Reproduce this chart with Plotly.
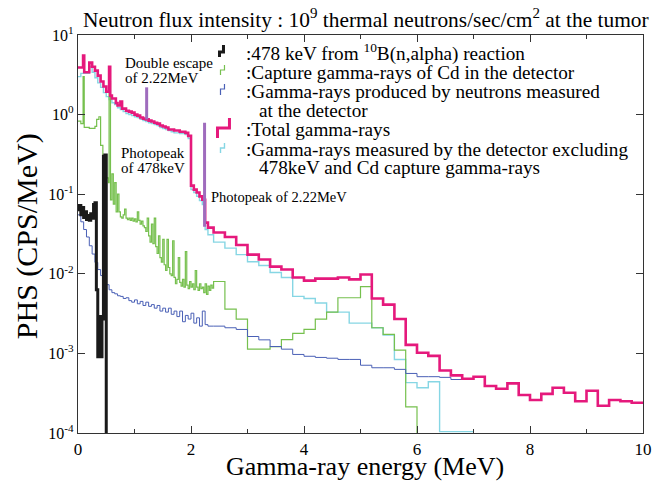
import plotly.graph_objects as go

# ------------------------------------------------------------------ data
# shared coarse binning above 2.4 MeV (bin edges, MeV)
coarse_edges = [round(2.4 + 0.2 * i, 1) for i in range(39)]  # 2.4 ... 10.0

# Total gamma-rays
total_fine_edges = [0, 0.09, 0.11, 0.2, 0.25, 0.3, 0.35, 0.4, 0.45, 0.5,
                    0.55, 0.57, 0.6, 0.65, 0.67, 0.7, 0.75, 0.78, 0.85, 0.9,
                    0.95, 1.0, 1.05, 1.1, 1.15, 1.2, 1.25, 1.3, 1.35, 1.4,
                    1.45, 1.5, 1.55, 1.6, 1.65, 1.7, 1.75, 1.8, 1.85, 1.9,
                    1.95, 2.0, 2.05, 2.1, 2.15, 2.2, 2.25, 2.3]
total_fine_vals = [3.9, 5.5, 3.4, 4.5, 4.0, 3.57, 3.09, 2.6, 2.25, 1.94,
                   4.0, 1.73, 1.59, 1.59, 1.40, 1.30, 1.46, 1.19, 1.12, 1.09,
                   1.06, 1.0, 0.97, 0.92, 0.89, 0.87, 0.84, 0.82, 0.79, 0.77,
                   0.73, 0.71, 0.69, 0.65, 0.65, 0.63, 0.63, 0.61, 0.61, 0.59,
                   0.54, 0.128, 0.114, 0.105, 0.094, 0.085, 0.044, 0.038]
total_coarse_vals = [0.033, 0.029, 0.023, 0.0174, 0.0151, 0.0123, 0.0113, 0.0090, 0.0082, 0.0087,
                     0.0087, 0.0090, 0.0085, 0.0098, 0.0049, 0.0041, 0.0027, 0.00128, 0.00102, 0.00093,
                     0.00061, 0.00053, 0.00048, 0.00051, 0.00039, 0.00036, 0.00042, 0.00030, 0.00026, 0.00031,
                     0.00037, 0.00032, 0.00025, 0.00034, 0.00022, 0.00026, 0.00025, 0.00024]

# Gamma-rays measured by the detector excluding 478 keV and Cd capture
excl_fine_edges = [0, 0.05, 0.2, 0.25, 0.3, 0.35, 0.4, 0.45, 0.5, 0.55,
                   0.6, 0.65, 0.7, 0.75, 0.8, 0.85, 0.9, 0.95, 1.0, 1.05,
                   1.1, 1.15, 1.2, 1.25, 1.3, 1.35, 1.4, 1.45, 1.5, 1.55,
                   1.6, 1.65, 1.7, 1.75, 1.8, 1.85, 1.9, 1.95, 2.0, 2.05,
                   2.1, 2.15, 2.2, 2.25, 2.3]
excl_fine_vals = [3.0, 3.3, 4.0, 3.4, 2.9, 2.5, 2.2, 1.89, 1.68, 1.54,
                  1.41, 1.34, 1.22, 1.16, 1.09, 1.03, 1.0, 0.97, 0.94, 0.92,
                  0.87, 0.84, 0.82, 0.79, 0.77, 0.75, 0.73, 0.69, 0.67, 0.65,
                  0.63, 0.61, 0.59, 0.59, 0.58, 0.58, 0.56, 0.50, 0.114, 0.105,
                  0.094, 0.083, 0.074, 0.036, 0.031]
excl_coarse_vals = [0.025, 0.021, 0.0174, 0.0142, 0.0127, 0.0104, 0.0090, 0.0052, 0.0049, 0.0043,
                    0.0033, 0.0033, 0.0024, 0.0024, 0.0021, 0.0017, 0.00084, 0.00043, 0.00037, 0.00044,
                    0.000104, 0.000104, 0.000104]

# Capture gamma-rays of Cd in the detector
cd_fine_edges = ([0, 0.05, 0.09, 0.11, 0.2, 0.3, 0.33, 0.37, 0.4, 0.44, 0.49, 0.54, 0.55, 0.575]
                 + [round(0.6 + 0.025 * i, 3) for i in range(72)])
cd_fine_vals = [0.83, 0.77, 3.0, 0.69, 0.67, 0.71, 0.87, 0.94, 0.41, 0.27, 0.16, 0.14, 2.6, 0.085,
                0.18, 0.075, 0.14, 0.06, 0.10, 0.06, 0.052, 0.050, 0.055, 0.065,
                0.050, 0.048, 0.050, 0.047, 0.050, 0.046, 0.049, 0.045, 0.060, 0.047,
                0.042, 0.046, 0.040, 0.038, 0.034, 0.050, 0.030, 0.025, 0.042, 0.024,
                0.050, 0.022, 0.018, 0.030, 0.016, 0.014, 0.027, 0.013, 0.011, 0.027,
                0.012, 0.010, 0.0095, 0.026, 0.009, 0.0075, 0.0085, 0.016, 0.0078, 0.0070,
                0.0085, 0.0068, 0.019, 0.0072, 0.0065, 0.0080, 0.0068, 0.0075, 0.0063, 0.011,
                0.0068, 0.0062, 0.0075, 0.0065, 0.0068, 0.0058, 0.0075, 0.0055, 0.0070, 0.0062,
                0.0072, 0.0066]
cd_coarse_vals = [0.0080, 0.0036, 0.0027, 0.00113, 0.00113, 0.00122, 0.00149, 0.00178, 0.0020, 0.0027,
                  0.0033, 0.0050, 0.0050, 0.0069, 0.0021, 0.00173, 0.00110, 0.000213]

# Gamma-rays produced by neutrons measured at the detector
neut_fine_edges = [round(0.05 * i, 2) for i in range(47)]  # 0 ... 2.3
neut_fine_vals = [0.055, 0.045, 0.036, 0.029, 0.0225, 0.0177, 0.0139, 0.0113, 0.0095, 0.0082,
                  0.0073, 0.0063, 0.0058, 0.0056, 0.0053, 0.0052, 0.0049, 0.0050, 0.0046, 0.0044,
                  0.0047, 0.0042, 0.0045, 0.0040, 0.0044, 0.0039, 0.0041, 0.0037, 0.0040, 0.0034,
                  0.0037, 0.0033, 0.0037, 0.0031, 0.0034, 0.0029, 0.0034, 0.0025, 0.0030, 0.0027,
                  0.0032, 0.0024, 0.0028, 0.0022, 0.0034, 0.0023, 0.0022]
neut_coarse_vals = [0.0022, 0.0021, 0.0020, 0.00163, 0.00148, 0.00122, 0.00113, 0.00097, 0.00092, 0.00089,
                    0.00087, 0.00084, 0.00084, 0.00071, 0.00066, 0.00066, 0.00063, 0.00056, 0.00051, 0.00051,
                    0.00050, 0.00047, 0.00047, 0.00051]

# 478 keV from 10B(n,alpha) reaction
b10_edges = [round(0.025 * i, 3) for i in range(20)]  # 0 ... 0.475
b10_vals = [0.064, 0.072, 0.055, 0.068, 0.051, 0.060, 0.048, 0.054, 0.047, 0.057,
            0.050, 0.074, 0.078, 0.0063, 0.00091, 0.0029, 0.00091, 0.0027, 0.30, 0.31]
b10_end = 0.5

# narrow peaks (double escape and photopeak of 2.22 MeV)
peak_energy = [1.215, 2.24]
peak_low = [0.87, 0.039]
peak_high = [2.2, 0.79]

y_tickvals = [1e-4, 1e-3, 1e-2, 1e-1, 1e0, 1e1]
y_ticktext = ["10<sup>-4</sup>", "10<sup>-3</sup>", "10<sup>-2</sup>",
              "10<sup>-1</sup>", "10<sup>0</sup>", "10<sup>1</sup>"]
x_tickvals = [0, 2, 4, 6, 8, 10]


# ------------------------------------------------------------------ helpers
def step_xy(edges, vals, end_edge, drop=False):
    xs = list(edges) + [end_edge]
    ys = list(vals) + [vals[-1]]
    if drop:
        xs.append(end_edge)
        ys.append(1e-7)
    return xs, ys


FONT = "Liberation Serif"
L, R, T, B = 78, 19, 35, 48
W, H = 664, 481
PW, PH = W - L - R, H - T - B


def px(xp):
    return (xp - L) / PW


def py(yp):
    return (H - B - yp) / PH


fig = go.Figure()

series = [
    # edges, vals, end, drop, color, width
    (excl_fine_edges + coarse_edges[:23], excl_fine_vals + excl_coarse_vals, coarse_edges[23], False, "#86d6e4", 1.4),
    (cd_fine_edges + coarse_edges[:18], cd_fine_vals + cd_coarse_vals, coarse_edges[18], True, "#76c04e", 1.2),
    (neut_fine_edges + coarse_edges[:24], neut_fine_vals + neut_coarse_vals, coarse_edges[24], False, "#4a60b6", 1.0),
    (b10_edges, b10_vals, b10_end, True, "#1a1a1a", 3.0),
    (total_fine_edges + coarse_edges[:38], total_fine_vals + total_coarse_vals, coarse_edges[38], False, "#e5197c", 2.6),
]
for edges, vals, end, drop, color, width in series:
    xs, ys = step_xy(edges, vals, end, drop)
    fig.add_trace(go.Scatter(x=xs, y=ys, mode="lines", line=dict(color=color, width=width, shape="hv"),
                             hoverinfo="skip", showlegend=False))

pxs, pys = [], []
for e, lo, hi in zip(peak_energy, peak_low, peak_high):
    pxs += [e, e, None]
    pys += [lo, hi, None]
fig.add_trace(go.Scatter(x=pxs, y=pys, mode="lines", line=dict(color="#9f6cbd", width=3),
                         hoverinfo="skip", showlegend=False))

# ------------------------------------------------------------------ legend (drawn manually)
legend_icons = [
    # x0, x1, ytop, ymid, ybot, color, width
    (220, 224, 45, 52, 57, "#1a1a1a", 3),
    (221, 225, 65, 70, 75, "#76c04e", 1.2),
    (221, 225, 84, 89, 95, "#4a60b6", 1.2),
    (218, 230, 118, 128, 138, "#e5197c", 3),
    (221, 225, 143, 148, 153, "#86d6e4", 1.4),
]
shapes = []
for x0, x1, yt, ym, yb, c, w in legend_icons:
    path = "M {a},{b} L {a},{c} L {d},{c} L {d},{e}".format(a=px(x0), b=py(yb), c=py(ym), d=px(x1), e=py(yt))
    shapes.append(dict(type="path", path=path, xref="paper", yref="paper", line=dict(color=c, width=w)))

legend_lines = [
    (245, 52, ":478 keV from <sup>10</sup>B(n,alpha) reaction"),
    (245, 72, ":Capture gamma-rays of Cd in the detector"),
    (245, 91, ":Gamma-rays produced by neutrons measured"),
    (258, 110, "at the detector"),
    (245, 129, ":Total gamma-rays"),
    (245, 149, ":Gamma-rays measured by the detector excluding"),
    (258, 168, "478keV and Cd capture gamma-rays"),
]
annotations = []
for xp, yp, txt in legend_lines:
    annotations.append(dict(x=px(xp), y=py(yp), xref="paper", yref="paper", text=txt, showarrow=False,
                            xanchor="left", yanchor="middle", font=dict(family=FONT, size=19.2, color="black")))

notes = [
    (123, 63, "Double escape", 15),
    (123, 78, "of 2.22MeV", 15),
    (119, 153, "Photopeak", 15),
    (119, 168, "of 478keV", 15),
    (209, 197, "Photopeak of 2.22MeV", 14.5),
]
for xp, yp, txt, fs in notes:
    annotations.append(dict(x=px(xp), y=py(yp), xref="paper", yref="paper", text=txt, showarrow=False,
                            xanchor="left", yanchor="middle", font=dict(family=FONT, size=fs, color="black")))

# title
annotations.append(dict(x=px(81), y=py(18), xref="paper", yref="paper",
                        text="Neutron flux intensity : 10<sup>9</sup> thermal neutrons/sec/cm<sup>2</sup> at the tumor",
                        showarrow=False, xanchor="left", yanchor="middle",
                        font=dict(family=FONT, size=21.4, color="black")))
# axis titles
annotations.append(dict(x=px(366), y=py(466), xref="paper", yref="paper", text="Gamma-ray energy (MeV)",
                        showarrow=False, xanchor="center", yanchor="middle",
                        font=dict(family=FONT, size=26, color="black")))
annotations.append(dict(x=px(27), y=py(236), xref="paper", yref="paper", text="PHS (CPS/MeV)",
                        showarrow=False, xanchor="center", yanchor="middle", textangle=-90,
                        font=dict(family=FONT, size=30, color="black")))

axis_color = "#333333"
fig.update_layout(
    width=W, height=H,
    margin=dict(l=L, r=R, t=T, b=B, pad=0),
    paper_bgcolor="white", plot_bgcolor="white",
    showlegend=False,
    font=dict(family=FONT, color="black"),
    shapes=shapes,
    annotations=annotations,
    xaxis=dict(range=[0, 10], tickvals=x_tickvals, ticks="inside", ticklen=7, tickwidth=1,
               tickcolor=axis_color, showline=True, linecolor=axis_color, linewidth=1.2,
               mirror="allticks", showgrid=False, zeroline=False,
               tickfont=dict(family=FONT, size=17, color="black"),
               minor=dict(tickvals=[1, 3, 5, 7, 9], ticks="inside", ticklen=4, tickcolor=axis_color)),
    yaxis=dict(type="log", range=[-4, 1], tickvals=y_tickvals, ticktext=y_ticktext,
               ticks="inside", ticklen=7, tickwidth=1, tickcolor=axis_color,
               showline=True, linecolor=axis_color, linewidth=1.2, mirror="allticks",
               showgrid=False, zeroline=False,
               tickfont=dict(family=FONT, size=16, color="black")),
)

fig.write_html("out.html")
